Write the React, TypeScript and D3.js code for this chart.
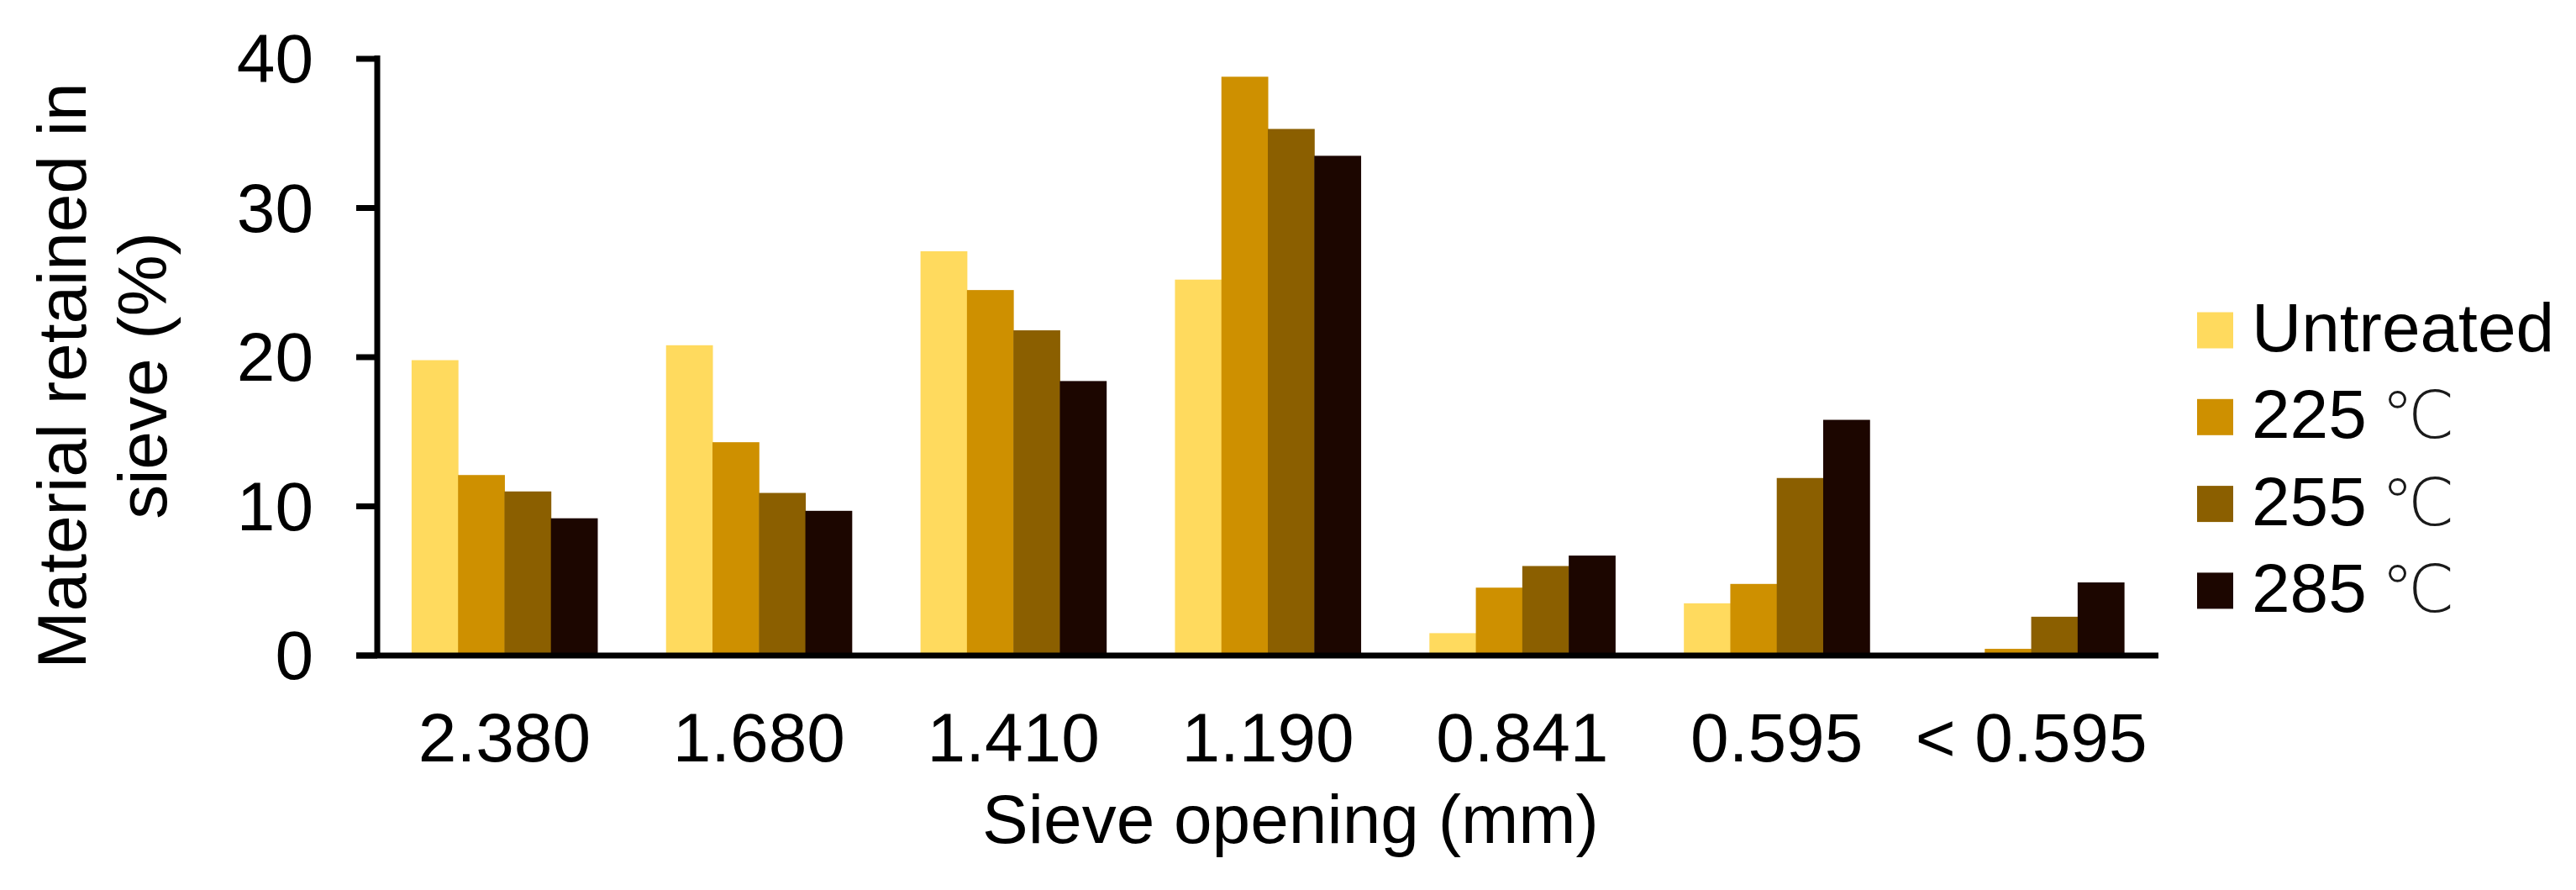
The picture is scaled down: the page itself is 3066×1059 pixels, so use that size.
import React from "react";
import * as d3 from "d3";

const categories = ["2.380", "1.680", "1.410", "1.190", "0.841", "0.595", "< 0.595"];
const seriesNames = ["Untreated", "225", "255", "285"];
const seriesUnits = ["", "℃", "℃", "℃"];
const untreated = [19.8, 20.8, 27.1, 25.2, 1.5, 3.5, 0];
const t225 = [12.1, 14.3, 24.5, 38.8, 4.55, 4.8, 0.45];
const t255 = [11.0, 10.9, 21.8, 35.3, 6.0, 11.9, 2.6];
const t285 = [9.2, 9.7, 18.4, 33.5, 6.7, 15.8, 4.9];
const colors = ["#FFDA5E", "#CE9000", "#8B5F00", "#1C0600"];
const yTicks = [0, 10, 20, 30, 40];

const W = 3066;
const H = 1059;
const left = 449;
const right = 2569;
const top = 70;
const bottom = 780;
const FONT = "'Liberation Sans', Arial, sans-serif";
const FS = 82;
const SW = 7;

export default function App() {
  const series = [untreated, t225, t255, t285];
  const x = d3.scaleBand<string>().domain(categories).range([left, right]).padding(0);
  const inner = d3
    .scaleBand<number>()
    .domain(d3.range(seriesNames.length))
    .range([0, x.bandwidth() * 0.73]);
  const offset = (x.bandwidth() * 0.27) / 2;
  const y = d3.scaleLinear().domain([0, 40]).range([bottom, top]);

  return (
    <div style={{ position: "absolute", left: 0, top: 0 }}>
      <svg width={W} height={H} style={{ display: "block", background: "#fff" }}>
        {categories.map((c, ci) =>
          series.map((s, si) => (
            <rect
              key={c + si}
              x={(x(c) as number) + offset + (inner(si) as number)}
              y={y(s[ci])}
              width={inner.bandwidth() + 0.5}
              height={bottom - y(s[ci])}
              fill={colors[si]}
            />
          ))
        )}
        {/* y axis */}
        <line x1={left} x2={left} y1={y(40) - 4} y2={bottom + 3} stroke="#000" strokeWidth={SW} />
        {yTicks.map((t) => (
          <g key={t}>
            <line x1={424} x2={left} y1={y(t)} y2={y(t)} stroke="#000" strokeWidth={SW} />
            <text
              x={373}
              y={y(t) + 28}
              textAnchor="end"
              fontFamily={FONT}
              fontSize={FS}
              fill="#000"
            >
              {t}
            </text>
          </g>
        ))}
        {/* x axis */}
        <line x1={424} x2={right} y1={bottom} y2={bottom} stroke="#000" strokeWidth={SW} />
        {categories.map((c) => (
          <text
            key={c}
            x={(x(c) as number) + x.bandwidth() / 2}
            y={906}
            textAnchor="middle"
            fontFamily={FONT}
            fontSize={FS}
            fill="#000"
          >
            {c}
          </text>
        ))}
        <text x={1536} y={1003} textAnchor="middle" fontFamily={FONT} fontSize={FS} fill="#000">
          Sieve opening (mm)
        </text>
        <g transform="translate(102,447) rotate(-90)">
          <text x={0} y={0} textAnchor="middle" fontFamily={FONT} fontSize={FS} fill="#000">
            Material retained in
          </text>
        </g>
        <g transform="translate(198,447) rotate(-90)">
          <text x={0} y={0} textAnchor="middle" fontFamily={FONT} fontSize={FS} fill="#000">
            sieve (%)
          </text>
        </g>
        {/* legend */}
        {seriesNames.map((n, i) => {
          const cy = 393 + i * 103.3;
          return (
            <g key={n}>
              <rect x={2615} y={cy - 21.5} width={43} height={43} fill={colors[i]} />
              <text x={2680} y={cy + 25} fontFamily={FONT} fontSize={FS} fill="#000">
                {n}
              </text>
              {seriesUnits[i] ? (
                <text
                  x={2834}
                  y={cy + 25}
                  fontFamily="'DejaVu Sans', sans-serif"
                  fontWeight={200}
                  fontSize={78}
                  fill="#1a1a1a"
                >
                  {seriesUnits[i]}
                </text>
              ) : null}
            </g>
          );
        })}
      </svg>
    </div>
  );
}
